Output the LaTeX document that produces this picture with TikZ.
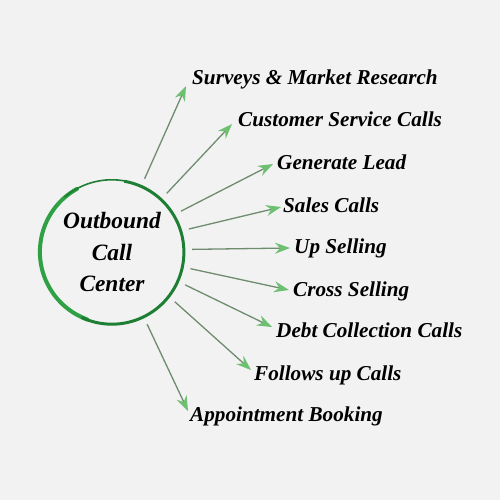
\documentclass[tikz,border=0pt]{standalone}
\usepackage{fontspec}
\setmainfont{Liberation Serif}
\usepackage{xcolor}
\usepackage{tikz}
\usetikzlibrary{arrows.meta}

\definecolor{ringgreen}{HTML}{1E7E34}
\definecolor{ringlight}{HTML}{2FA044}
\definecolor{spokegray}{HTML}{6F8C6F}
\definecolor{tipgreen}{HTML}{6CC070}
\definecolor{paper}{HTML}{F2F2F2}

\tikzset{
  hub/.style={circle,minimum size=144pt,inner sep=0pt,align=center,
    font=\fontsize{23.4}{31.5}\selectfont\bfseries\itshape},
  lbl/.style={anchor=base west,inner sep=0pt,
    font=\fontsize{21.2}{24}\selectfont\bfseries\itshape},
  spoke/.style={color=spokegray,line width=1.3pt,shorten <=8pt,
    -{Stealth[length=15pt,width=11pt,inset=5pt,fill=tipgreen,color=tipgreen]}}
}

\begin{document}
\begin{tikzpicture}[x=1pt,y=-1pt]
       \fill[paper] (0,0) rectangle (500,500);

       \node[hub] (H) at (112,252) {Outbound\\Call\\Center};

       \node[lbl] (S) at (192,85) {Surveys \& Market Research};
       \node[lbl] (C) at (238,127) {Customer Service Calls};
       \node[lbl] (G) at (277,169) {Generate Lead};
       \node[lbl] (L) at (283,212) {Sales Calls};
       \node[lbl] (U) at (294,253) {Up Selling};
       \node[lbl] (X) at (293,296) {Cross Selling};
       \node[lbl] (D) at (276,337) {Debt Collection Calls};
       \node[lbl] (F) at (254,380) {Follows up Calls};
       \node[lbl] (A) at (190,421) {Appointment Booking};

       \coordinate (tS) at (186,86);
       \coordinate (tC) at (232,124);
       \coordinate (tG) at (273,164);
       \coordinate (tL) at (281,207);
       \coordinate (tU) at (290,248);
       \coordinate (tX) at (289,290);
       \coordinate (tD) at (272,327);
       \coordinate (tF) at (251,370);
       \coordinate (tA) at (188,411);

       % ring
       \draw[ringlight,line width=4pt,line cap=round] (H.119) arc[start angle=119,end angle=250,radius=72pt];
       \draw[ringgreen,line width=3pt] (H.245) arc[start angle=245,end angle=440,radius=72pt];
       \draw[ringgreen,line width=1.6pt,line cap=round] (H.438) arc[start angle=438,end angle=490,radius=73pt];

       \path[spoke]
       (H.66) edge (tS)
       (H.47) edge (tC)
       (H.31) edge (tG)
       (H.17) edge (tL)
       (H.2) edge (tU)
       (H.-12) edge (tX)
       (H.-24) edge (tD)
       (H.-38) edge (tF)
       (H.-64) edge (tA);
    \end{tikzpicture}
\end{document}
